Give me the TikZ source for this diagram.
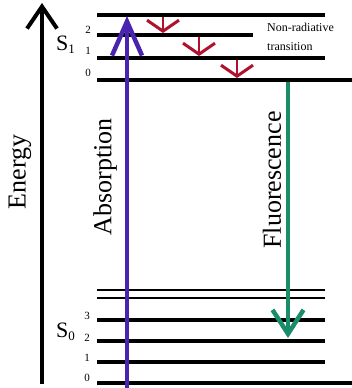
\documentclass[tikz,border=0pt]{standalone}
\usepackage{fontspec}
\setmainfont{Liberation Serif}
\usetikzlibrary{arrows.meta}
\definecolor{absc}{HTML}{4A23B0}
\definecolor{fluc}{HTML}{1A8C6A}
\definecolor{nrc}{HTML}{B0122E}
\begin{document}
\begin{tikzpicture}[x=1pt,y=-1pt,
  lvl/.style={line width=#1, black},
  lvl/.default=4pt,
  bigtxt/.style={font=\fontsize{26}{28}\selectfont, inner sep=0pt},
  numtxt/.style={font=\fontsize{11}{12}\selectfont, inner sep=0pt},
  stxt/.style={font=\fontsize{22}{24}\selectfont, inner sep=0pt, anchor=base west},
  energyarrow/.style={line width=3.5pt, -{Straight Barb[length=22pt,width=30pt,line width=4pt]}},
  absarrow/.style={absc, line width=3.5pt, -{Straight Barb[length=34pt,width=30pt,line width=4.5pt]}},
  fluarrow/.style={fluc, line width=3.5pt, -{Straight Barb[length=24pt,width=31pt,line width=4.5pt]}},
  nrarrow/.style={nrc, line width=2.5pt, -{Straight Barb[length=11pt,width=32pt,line width=3pt]}}
]
\useasboundingbox (0,0) rectangle (352,388);

% S1 levels
\draw[lvl] (97,15) -- (325,15);
\draw[lvl] (97,35) -- (253,35);
\draw[lvl] (97,58) -- (325,58);
\draw[lvl] (97,80) -- (352,80);
% S0 levels
\draw[lvl=2.5pt] (97,290) -- (325,290);
\draw[lvl=2.5pt] (97,298) -- (325,298);
\draw[lvl=3.5pt] (97,320) -- (325,320);
\draw[lvl=4.5pt] (97,341) -- (325,341);
\draw[lvl=4pt] (97,362) -- (325,362);
\draw[lvl=4.5pt] (97,383) -- (352,383);

% coordinates
\coordinate (eb) at (42,384);
\coordinate (et) at (42,3);
\coordinate (ab) at (127,388);
\coordinate (at) at (127,16);
\coordinate (fb) at (288,82);
\coordinate (ft) at (288,338);
\coordinate (n1a) at (163,17);
\coordinate (n1b) at (163,33);
\coordinate (n2a) at (199,37);
\coordinate (n2b) at (199,56);
\coordinate (n3a) at (237,60);
\coordinate (n3b) at (237,78);

% arrows
\draw[energyarrow] (eb) -- (et);
\draw[absarrow] (ab) -- (at);
\draw[fluarrow] (fb) -- (ft);
\draw[nrarrow] (n1a) -- (n1b);
\draw[nrarrow] (n2a) -- (n2b);
\draw[nrarrow] (n3a) -- (n3b);

% texts
\node[bigtxt, rotate=90] (energy) at (20,172) {Energy};
\node[bigtxt, rotate=90] (absorption) at (105,177) {Absorption};
\node[bigtxt, rotate=90] (fluor) at (272,180) {Fluorescence};

\node[stxt] (s1) at (56,50) {S\textsubscript{\fontsize{13}{14}\selectfont 1}};
\node[stxt] (s0) at (56,337) {S\textsubscript{\fontsize{13}{14}\selectfont 0}};

\node[numtxt] (l12) at (88,30) {2};
\node[numtxt] (l11) at (88,51) {1};
\node[numtxt] (l10) at (88,73) {0};
\node[numtxt] (l03) at (87,316) {3};
\node[numtxt] (l02) at (87,338) {2};
\node[numtxt] (l01) at (87,358) {1};
\node[numtxt] (l00) at (87,378) {0};

\node[font=\fontsize{12}{19}\selectfont, align=left, inner sep=0pt, anchor=west] (nr) at (267,37) {Non-radiative\\transition};
\end{tikzpicture}
\end{document}
